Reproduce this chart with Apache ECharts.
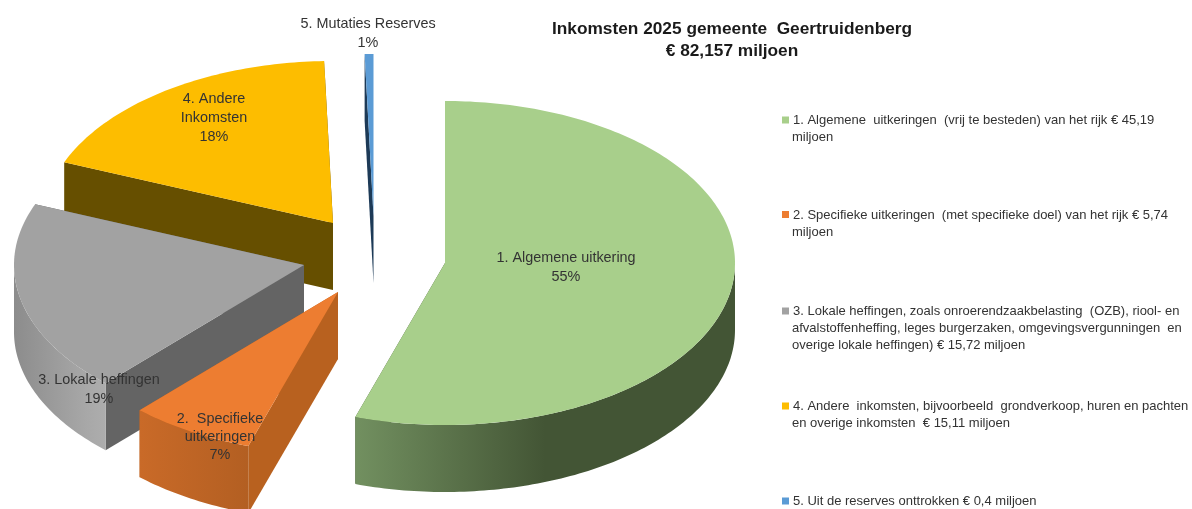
<!DOCTYPE html>
<html><head><meta charset="utf-8">
<style>html,body{margin:0;padding:0;background:#fff}#c{width:1192px;height:509px}</style>
<script src="https://cdn.jsdelivr.net/npm/echarts@6/dist/echarts.min.js"></script>
</head><body><div id="c"></div>
<script>
const categories = ['1. Algemene uitkering','2. Specifieke uitkeringen','3. Lokale heffingen','4. Andere Inkomsten','5. Mutaties Reserves'];
const values = [45.19, 5.74, 15.72, 15.11, 0.4];
const sliceLabels = [
  '1. Algemene uitkering\n55%',
  '2.  Specifieke\nuitkeringen\n7%',
  '3. Lokale heffingen\n19%',
  '4. Andere\nInkomsten\n18%',
  '5. Mutaties Reserves\n1%'
];
const legendTexts = [
  ['1. Algemene  uitkeringen  (vrij te besteden) van het rijk € 45,19','miljoen'],
  ['2. Specifieke uitkeringen  (met specifieke doel) van het rijk € 5,74','miljoen'],
  ['3. Lokale heffingen, zoals onroerendzaakbelasting  (OZB), riool- en','afvalstoffenheffing, leges burgerzaken, omgevingsvergunningen  en','overige lokale heffingen) € 15,72 miljoen'],
  ['4. Andere  inkomsten, bijvoorbeeld  grondverkoop, huren en pachten','en overige inkomsten  € 15,11 miljoen'],
  ['5. Uit de reserves onttrokken € 0,4 miljoen']
];
const titleLines = ['Inkomsten 2025 gemeente  Geertruidenberg','€ 82,157 miljoen'];

// styling and layout, separate from the data
const topColors = ['#a8cf8b','#ed7d31','#a2a2a2','#fdbd00','#5b9bd5'];
const cutColors = ['#435535','#b8611f','#646464','#664f00','#1d3a57'];
const sideStops = [
  [[0,'#729060'],[0.5,'#435535'],[1,'#435535']],
  [[0,'#c96a28'],[1,'#b35f22']],
  [[0,'#8c8c8c'],[0.8,'#a8a8a8'],[1,'#adadad']],
  [[0,'#664f00'],[1,'#664f00']],
  [[0,'#1d3a57'],[1,'#1d3a57']]
];
const apex = [[445,263],[338,292],[304,265],[333,223],[373.5,216]];
const labelAt = [[566,268],[220,437],[99,390],[214,118],[368,34]];
const drawOrder = [4,3,2,1,0]; // z level by slice index
const RX = 290, RY = 162, DEPTH = 67, FS = 14.4;
const total = values.reduce((a,b)=>a+b,0);

function pt(c, deg, dy){
  const t = deg*Math.PI/180;
  return [c[0]+RX*Math.sin(t), c[1]-RY*Math.cos(t)+(dy||0)];
}
function arc(c, a, b, dy){
  const n = Math.max(2, Math.ceil(Math.abs(b-a)));
  const out = [];
  for(let i=0;i<=n;i++) out.push(pt(c, a+(b-a)*i/n, dy));
  return out;
}
function renderSlice(idx){
  return function(params, api){
    const v = api.value(0);
    let before = 0;
    for(let i=0;i<idx;i++) before += values[i];
    const a = before/total*360, b = (before+v)/total*360;
    const c = apex[idx];
    const children = [];
    const cut = (deg)=>({type:'polygon',shape:{points:[c,pt(c,deg),pt(c,deg,DEPTH),[c[0],c[1]+DEPTH]]},
      style:{fill:cutColors[idx]}});
    children.push(cut(b));
    children.push(cut(a));
    const s0 = Math.max(a,90), s1 = Math.min(b,270);
    if(s1>s0){
      const pts = arc(c,s1,s0,0).concat(arc(c,s0,s1,DEPTH));
      children.push({type:'polygon',shape:{points:pts},style:{fill:{type:'linear',x:0,y:0,x2:1,y2:0,
        colorStops:sideStops[idx].map(s=>({offset:s[0],color:s[1]}))}}});
    }
    children.push({type:'polygon',shape:{points:[c].concat(arc(c,a,b,0))},style:{fill:topColors[idx]}});
    children.push({type:'text',style:{text:sliceLabels[idx],x:labelAt[idx][0],y:labelAt[idx][1],
      align:'center',verticalAlign:'middle',fill:'#333',font:FS+'px "Liberation Sans"',lineHeight:idx===1?18:19}});
    return {type:'group',children};
  };
}
const series = categories.map((name,i)=>({
  type:'custom', name, coordinateSystem:'none', z:2+drawOrder[i], silent:true,
  data:[[values[i]]], renderItem:renderSlice(i), animation:false
}));

const rowY = [120.5,215,311.5,406.5,501.5];
const legendEls = [];
legendTexts.forEach((lines,i)=>{
  legendEls.push({type:'rect',shape:{x:782,y:rowY[i]-4,width:7,height:7},style:{fill:topColors[i]}});
  lines.forEach((t,j)=>legendEls.push({type:'text',style:{text:t,x:j?792:793,y:rowY[i]+j*17,
    verticalAlign:'middle',fill:'#333',font:'13px "Liberation Sans"'}}));
});
titleLines.forEach((t,i)=>legendEls.push({type:'text',style:{text:t,x:732,y:29+i*22,align:'center',
  verticalAlign:'middle',fill:'#1a1a1a',font:'bold 17.3px "Liberation Sans"'}}));

const chart = echarts.init(document.getElementById('c'),null,{renderer:'canvas'});
chart.setOption({backgroundColor:'#fff',animation:false,series,graphic:{elements:legendEls}});
</script></body></html>
